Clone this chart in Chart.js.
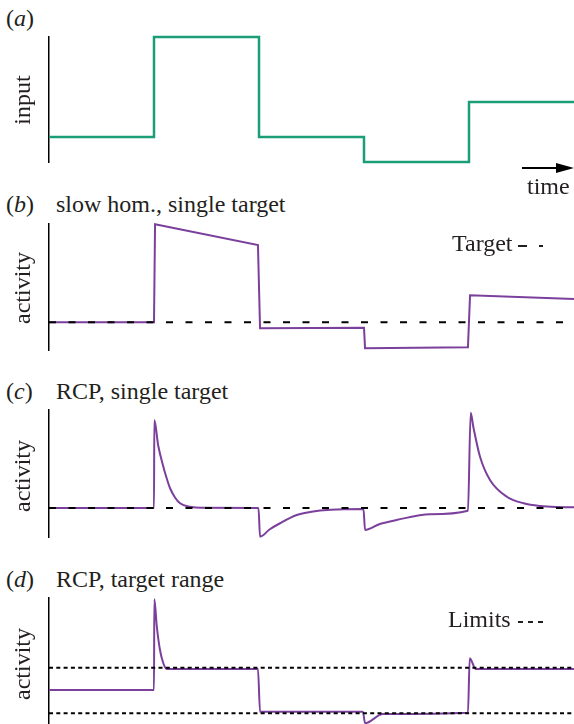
<!DOCTYPE html>
<html>
<head>
<meta charset="utf-8">
<script src="https://cdn.jsdelivr.net/npm/chart.js@4.4.0/dist/chart.umd.min.js"></script>
<style>
  body { margin: 0; background: #fff; }
  #page { position: relative; width: 574px; height: 724px; overflow: hidden; font-family: "Liberation Serif", "Times New Roman", serif; color: #231f20; }
  .txt { position: absolute; font-size: 24px; line-height: 24px; white-space: nowrap; }
  .ylab { position: absolute; left: -38px; width: 120px; height: 24px; font-size: 24px; line-height: 24px; text-align: center; transform: rotate(-90deg); }
  .dash { position: absolute; height: 2px; background: #231f20; }
  canvas { position: absolute; left: 0; }
</style>
</head>
<body>
<div id="page">
  <canvas id="chartA"></canvas>
  <canvas id="chartB"></canvas>
  <canvas id="chartC"></canvas>
  <canvas id="chartD"></canvas>

  <div class="txt" style="left:6px; top:6px;">(<i>a</i>)</div>
  <div class="txt" style="left:6px; top:192px;">(<i>b</i>)</div>
  <div class="txt" style="left:56px; top:192px;">slow hom., single target</div>
  <div class="txt" style="left:6px; top:379px;">(<i>c</i>)</div>
  <div class="txt" style="left:56px; top:379px;">RCP, single target</div>
  <div class="txt" style="left:6px; top:567px;">(<i>d</i>)</div>
  <div class="txt" style="left:56px; top:567px;">RCP, target range</div>

  <div class="ylab" style="top:88px;">input</div>
  <div class="ylab" style="top:276px;">activity</div>
  <div class="ylab" style="top:464px;">activity</div>
  <div class="ylab" style="top:652px;">activity</div>

  <!-- flèche du temps -->
  <svg style="position:absolute; left:518px; top:158px;" width="56" height="20">
    <line x1="4" y1="10" x2="42" y2="10" stroke="#000" stroke-width="2"/>
    <polygon points="38,5 56,10 38,15" fill="#000"/>
  </svg>
  <div class="txt" style="left:527px; top:174px;">time</div>

  <div class="txt" style="left:452px; top:231px;">Target</div>
  <div class="dash" style="left:518px; top:245px; width:9px;"></div>
  <div class="dash" style="left:539px; top:245px; width:4px;"></div>

  <div class="txt" style="left:448px; top:607px;">Limits</div>
  <div class="dash" style="left:518px; top:621px; width:5px;"></div>
  <div class="dash" style="left:528px; top:621px; width:5px;"></div>
  <div class="dash" style="left:538px; top:621px; width:5px;"></div>
</div>

<script>
// Données (temps en périodes, activité en unités arbitraires)
const timeA = [0, 1, 1, 2, 2, 3, 3, 4, 4, 5];
const inputA = [0, 0, 4, 4, 0, 0, -1, -1, 1.4, 1.4];

const timeB = [0, 1, 1.01, 1.99, 2.01, 3, 3.01, 3.99, 4.01, 5];
const activityB = [0, 0, 3.92, 3.09, -0.24, -0.22, -1.04, -1.0, 1.08, 0.93];

const timeC = [0, 1, 1.003, 1.04, 1.089, 1.12, 1.152, 1.2, 1.248, 1.343, 1.45, 1.995, 2.01, 2.1, 2.2, 2.36, 2.5, 2.68, 2.995,
  3.01, 3.15, 3.31, 3.63, 3.99, 4.016, 4.041, 4.105, 4.2, 4.36, 4.52, 4.68, 4.84, 5];
const activityC = [0, 0, 3.52, 2.5, 1.65, 1.2, 0.8, 0.42, 0.19, 0.05, 0.01, 0, -1.15, -0.86, -0.61, -0.28, -0.15, -0.07, -0.04,
  -0.88, -0.64, -0.48, -0.25, -0.11, 3.81, 3.25, 2.05, 1.12, 0.45, 0.19, 0.08, 0.04, 0.03];

const timeD = [0, 1, 1.003, 1.027, 1.057, 1.089, 1.12, 1.99, 2.01, 2.99, 3.01, 3.18, 3.99, 4.007, 4.064, 5];
const activityD = [0.93, 0.93, 4.56, 3.46, 2.53, 2.0, 1.77, 1.77, 0.06, 0.06, -0.4, -0.03, 0.02, 2.2, 1.77, 1.77];

const timeRef = [0, 5];
const targetLevel = [0, 0];
const limitLow = [0, 0];
const limitHigh = [1.82, 1.82];

const green = '#1b9e77';
const purple = '#7b3f9c';

function toPoints(xs, ys) {
    return xs.map((x, i) => ({ x: x, y: ys[i] }));
}

function curve(xs, ys, color, width, smooth) {
    return {
        data: toPoints(xs, ys),
        borderColor: color,
        borderWidth: width,
        fill: false,
        clip: false,
        tension: 0,
        cubicInterpolationMode: smooth ? 'monotone' : 'default'
    };
}

function refLine(ys, dash) {
    return {
        data: toPoints(timeRef, ys),
        borderColor: '#000',
        borderWidth: 2,
        borderDash: dash, // tirets ou pointillés
        fill: false,
        clip: false
    };
}

// Un graphique par panneau, la zone de tracé est calée sur l'axe vertical
function makePanel(id, top, bottom, yMin, yMax, datasets) {
    const padTop = 6;
    const padBottom = Math.min(6, 724 - bottom);
    const canvas = document.getElementById(id);
    canvas.width = 574;
    canvas.height = bottom - top + padTop + padBottom;
    canvas.style.top = (top - padTop) + 'px';
    return new Chart(canvas.getContext('2d'), {
        type: 'line',
        data: { datasets: datasets },
        options: {
            responsive: false,
            animation: false,
            layout: { padding: { left: 49, right: 0, top: padTop, bottom: padBottom } },
            plugins: { legend: { display: false }, tooltip: { enabled: false } },
            elements: { point: { radius: 0 } },
            scales: {
                x: { type: 'linear', min: 0, max: 5, display: false },
                y: {
                    min: yMin,
                    max: yMax,
                    grid: { display: false, drawTicks: false },
                    ticks: { display: false },
                    border: { display: true, color: '#000', width: 1.5 }
                }
            }
        }
    });
}

makePanel('chartA', 37, 162, -1, 4, [curve(timeA, inputA, green, 2.5, false)]);
makePanel('chartB', 224, 350, -1.11, 3.93, [refLine(targetLevel, [7, 12.5]), curve(timeB, activityB, purple, 2, false)]);
makePanel('chartC', 410, 537, -1.16, 3.92, [refLine(targetLevel, [7, 12.5]), curve(timeC, activityC, purple, 2, true)]);
makePanel('chartD', 598, 724, -0.43, 4.61, [refLine(limitHigh, [4, 3.3]), refLine(limitLow, [4, 3.3]), curve(timeD, activityD, purple, 2, true)]);
</script>
</body>
</html>
